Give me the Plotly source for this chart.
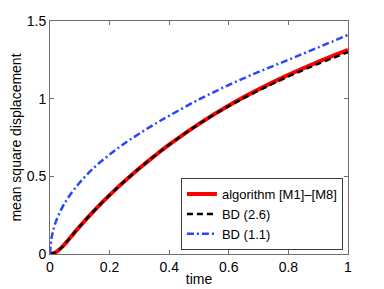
import plotly.graph_objects as go

# --- data ---
t_alg = [0, 0.02, 0.04, 0.06, 0.08, 0.1, 0.15, 0.2, 0.25, 0.3, 0.35, 0.4, 0.5, 0.6, 0.7, 0.8, 0.9, 1.0]
msd_alg = [0, 0.012, 0.044, 0.087, 0.133, 0.178, 0.283, 0.379, 0.468, 0.552, 0.630, 0.704, 0.838, 0.956, 1.060, 1.153, 1.237, 1.314]
msd_bd26 = [0, 0.012, 0.044, 0.087, 0.133, 0.178, 0.283, 0.379, 0.468, 0.552, 0.630, 0.704, 0.837, 0.952, 1.052, 1.143, 1.224, 1.300]

t_bd11 = [0, 0.005, 0.01, 0.02, 0.04, 0.06, 0.1, 0.15, 0.2, 0.25, 0.3, 0.35, 0.4, 0.5, 0.6, 0.7, 0.8, 0.9, 1.0]
msd_bd11 = [0, 0.10, 0.145, 0.21, 0.295, 0.36, 0.46, 0.56, 0.64, 0.712, 0.775, 0.835, 0.89, 0.995, 1.088, 1.172, 1.25, 1.33, 1.41]

names = ["algorithm [M1]\u2013[M8]", "BD (2.6)", "BD (1.1)"]
x_ticks = [0, 0.2, 0.4, 0.6, 0.8, 1]
x_tick_text = ["0", "0.2", "0.4", "0.6", "0.8", "1"]
y_ticks = [0, 0.5, 1, 1.5]
y_tick_text = ["0", "0.5", "1", "1.5"]

fig = go.Figure()
fig.add_trace(go.Scatter(x=t_alg, y=msd_alg, mode="lines", name=names[0],
                         line=dict(color="rgb(255,0,0)", width=4, shape="spline", smoothing=1)))
fig.add_trace(go.Scatter(x=t_alg, y=msd_bd26, mode="lines", name=names[1],
                         line=dict(color="black", width=2.5, dash="6px,4px", shape="spline", smoothing=1)))
fig.add_trace(go.Scatter(x=t_bd11, y=msd_bd11, mode="lines", name=names[2],
                         line=dict(color="rgb(40,70,255)", width=2.5, dash="7px,3px,2px,3px",
                                   shape="spline", smoothing=1)))

axis_common = dict(showgrid=False, zeroline=False, showline=True, linecolor="rgb(110,110,110)",
                   linewidth=1, mirror="ticks", ticks="inside", ticklen=4, tickcolor="rgb(110,110,110)",
                   tickfont=dict(size=14, color="black"), automargin=False)

fig.update_xaxes(range=[0, 1], tickvals=x_ticks, ticktext=x_tick_text,
                 title=dict(text="time", font=dict(size=14, color="black"), standoff=0), **axis_common)
fig.update_yaxes(range=[0, 1.5], tickvals=y_ticks, ticktext=y_tick_text,
                 title=dict(text="mean square displacement", font=dict(size=14, color="black"), standoff=4),
                 **axis_common)

# page body has an 8px default margin; margins compensate so the plot box sits at x 50-348, y 21-254
fig.update_layout(
    width=384, height=289,
    margin=dict(l=42, r=44, t=13, b=43),
    paper_bgcolor="white", plot_bgcolor="white",
    font=dict(family="Liberation Sans, Arial, sans-serif", size=14, color="black"),
    legend=dict(x=0.983, y=0.017, xanchor="right", yanchor="bottom",
                bgcolor="white", bordercolor="rgb(60,60,60)", borderwidth=1,
                font=dict(size=13), tracegroupgap=0, itemwidth=30),
    showlegend=True,
)

fig.write_html("out.html")
